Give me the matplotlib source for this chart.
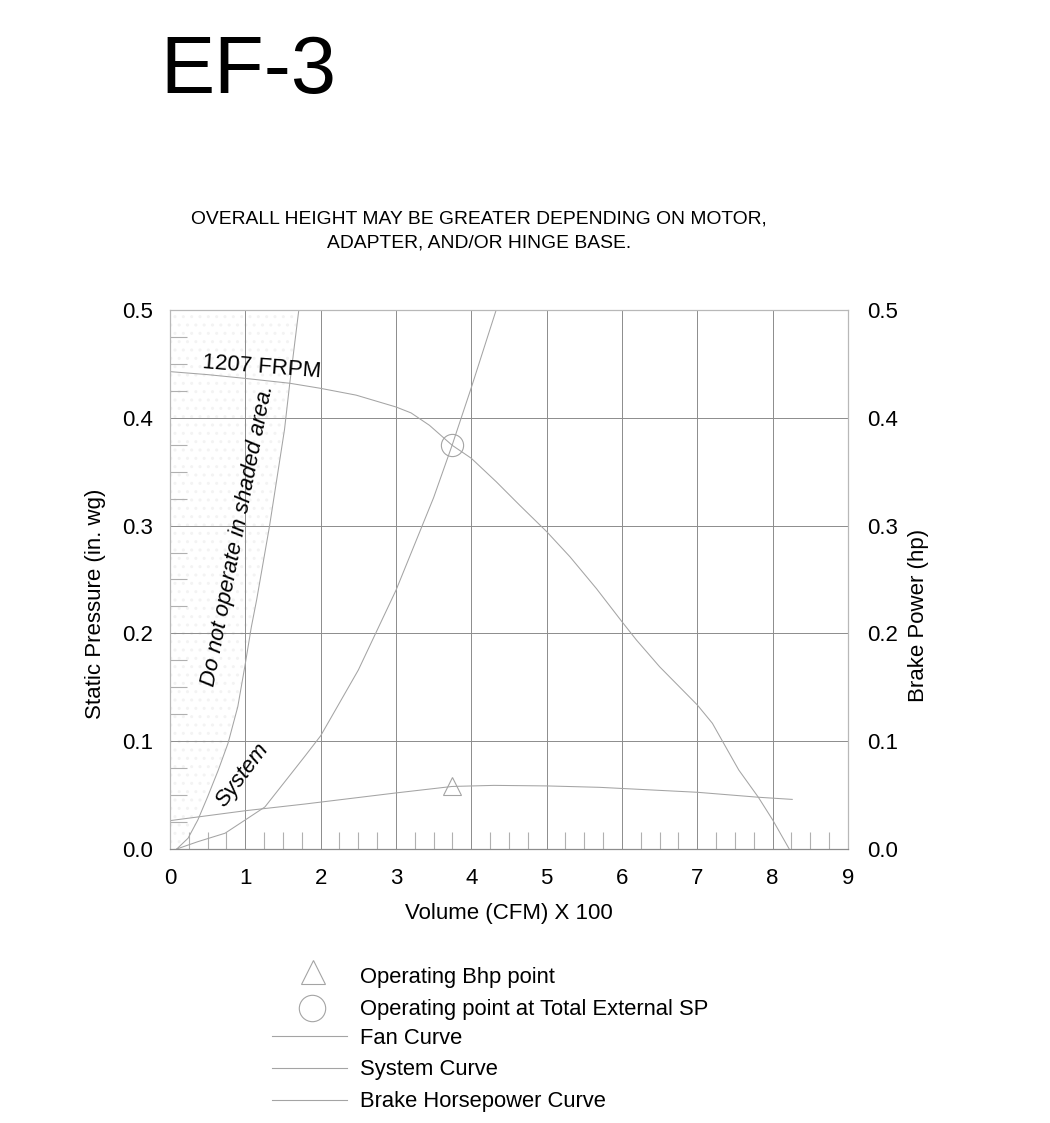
import matplotlib
matplotlib.use("Agg")
import matplotlib.pyplot as plt
from matplotlib.ticker import MultipleLocator

plt.rcParams['font.family'] = ['Liberation Sans', 'DejaVu Sans']

# fan curve, static pressure (in. wg) vs volume (CFM x 100)
fan_x = [0, 0.5, 1, 1.59, 1.99, 2.47, 3.0, 3.2, 3.444, 3.745, 4.0, 4.33, 4.64, 5.0,
         5.31, 5.66, 6.0, 6.19, 6.5, 7.0, 7.2, 7.35, 7.55, 7.81, 8.0, 8.22]
fan_y = [0.4428, 0.440, 0.4365, 0.432, 0.4274, 0.421, 0.410, 0.4045, 0.393, 0.3745, 0.3624, 0.3407, 0.319, 0.2944,
         0.271, 0.2416, 0.2108, 0.194, 0.169, 0.1336, 0.1166, 0.098, 0.0733, 0.048, 0.027, 0.0]

# system curve
sys_x = [0.09, 0.37, 0.73, 1.0, 1.26, 1.61, 1.79, 2.0, 2.5, 3.0, 3.5, 3.745, 4.0, 4.33]
sys_y = [0.0, 0.0068, 0.0146, 0.027, 0.039, 0.070, 0.086, 0.105, 0.166, 0.240, 0.326, 0.3745, 0.428, 0.5]

# brake horsepower curve (right axis)
bhp_x = [0, 1, 1.79, 3, 3.745, 4.3, 5, 5.7, 7, 7.81, 8.26]
bhp_y = [0.0263, 0.0355, 0.0417, 0.052, 0.058, 0.059, 0.0585, 0.0572, 0.0526, 0.048, 0.046]

# surge / do-not-operate boundary
surge_x = [0.09, 0.24, 0.37, 0.5, 0.64, 0.77, 0.9, 1.0, 1.08, 1.15, 1.32, 1.52, 1.59, 1.71]
surge_y = [0.0, 0.01, 0.027, 0.0485, 0.073, 0.098, 0.132, 0.172, 0.206, 0.231, 0.299, 0.389, 0.432, 0.5]

op_point = (3.745, 0.3745)
bhp_point = (3.745, 0.058)

legend_labels = ["Operating Bhp point", "Operating point at Total External SP",
                 "Fan Curve", "System Curve", "Brake Horsepower Curve"]

curve_color = "#a4a4a4"
grid_color = "#8c8c8c"

fig = plt.figure(figsize=(10.5, 11.23), dpi=100)
ax = fig.add_axes([0.1619, 0.244, 0.6457, 0.480])

ax.fill_betweenx(surge_y, 0, surge_x, facecolor="none", edgecolor="#f3f3f3",
                 hatch="..", linewidth=0)
for xs, ys in ((surge_x, surge_y), (fan_x, fan_y), (sys_x, sys_y), (bhp_x, bhp_y)):
    ax.plot(xs, ys, color=curve_color, lw=0.75, solid_joinstyle="round")
ax.plot(*op_point, marker="o", ms=16, mfc="none", mec=curve_color, mew=0.8)
ax.plot(*bhp_point, marker="^", ms=13, mfc="none", mec=curve_color, mew=0.8)

ax.set_xlim(0, 9)
ax.set_ylim(0, 0.5)
ax.xaxis.set_major_locator(MultipleLocator(1))
ax.xaxis.set_minor_locator(MultipleLocator(0.25))
ax.yaxis.set_major_locator(MultipleLocator(0.1))
ax.yaxis.set_minor_locator(MultipleLocator(0.025))
ax.yaxis.set_major_formatter(plt.FuncFormatter(lambda v, p: f"{v:.1f}"))
ax.grid(True, which="major", color=grid_color, lw=0.7)
ax.tick_params(which="major", length=0, labelsize=16, pad=12)
ax.tick_params(which="minor", direction="in", length=12, color="#b0b0b0", width=0.8)
ax.tick_params(axis="x", which="major", pad=14)
ax.tick_params(axis="y", which="minor", left=True, right=True)
for s in ax.spines.values():
    s.set_color("#b8b8b8")
    s.set_linewidth(0.9)
ax.spines["bottom"].set_color(grid_color)

ax.set_xlabel("Volume (CFM) X 100", fontsize=16, labelpad=10)
ax.set_ylabel("Static Pressure (in. wg)", fontsize=16)
ax.yaxis.set_label_coords(-0.094, 0.455)

ax2 = ax.twinx()
ax2.set_ylim(0, 0.5)
ax2.yaxis.set_major_locator(MultipleLocator(0.1))
ax2.yaxis.set_major_formatter(plt.FuncFormatter(lambda v, p: f"{v:.1f}"))
ax2.tick_params(length=0, labelsize=16, pad=14)
ax2.set_ylabel("Brake Power (hp)", fontsize=16)
ax2.yaxis.set_label_coords(1.088, 0.434)
for s in ax2.spines.values():
    s.set_visible(False)

ax.text(1.22, 0.447, "1207 FRPM", fontsize=16, rotation=-4.5,
        ha="center", va="center", rotation_mode="anchor")
ax.text(0.90, 0.291, "Do not operate in shaded area.", fontsize=16, style="italic",
        rotation=79, ha="center", va="center", rotation_mode="anchor")
ax.text(0.96, 0.069, "System", fontsize=16, style="italic",
        rotation=53, ha="center", va="center", rotation_mode="anchor")

fig.text(160 / 1050, 1 - 93 / 1123, "EF-3", fontsize=58.5, ha="left", va="baseline")
fig.text(479 / 1050, 1 - 224 / 1123, "OVERALL HEIGHT MAY BE GREATER DEPENDING ON MOTOR,",
         fontsize=13.9, ha="center", va="baseline")
fig.text(479 / 1050, 1 - 248 / 1123, "ADAPTER, AND/OR HINGE BASE.",
         fontsize=13.9, ha="center", va="baseline")

# legend drawn in pixel coordinates of the figure
leg = fig.add_axes([0, 0, 1, 1], zorder=-1)
leg.set_xlim(0, 1050)
leg.set_ylim(1123, 0)
leg.axis("off")
leg.plot(313, 972, marker="^", ms=17, mfc="none", mec=curve_color, mew=0.8)
leg.plot(312, 1008, marker="o", ms=19, mfc="none", mec=curve_color, mew=0.8)
for yy in (1036, 1068, 1100):
    leg.plot([272, 347], [yy, yy], color=curve_color, lw=0.8)
for lab, yy in zip(legend_labels, (977, 1010, 1038, 1069, 1101)):
    leg.text(360, yy, lab, fontsize=15.8, ha="left", va="center")

fig.savefig("out.png", dpi=100, facecolor="white")
